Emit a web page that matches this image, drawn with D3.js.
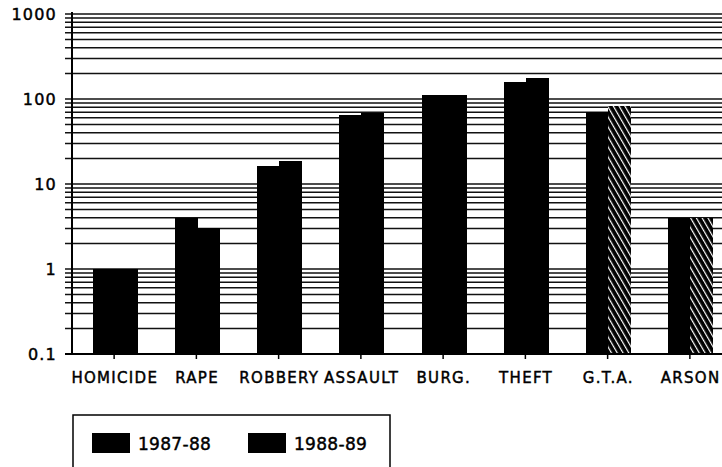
<!DOCTYPE html>
<html>
<head>
<meta charset="utf-8">
<script src="https://cdn.jsdelivr.net/npm/d3@7/dist/d3.min.js"></script>
<style>
  html, body { margin: 0; padding: 0; background: #fff; }
  svg { display: block; }
  text { font-family: "DejaVu Sans", sans-serif; fill: #000; stroke: #000; stroke-width: 0.45px; }
</style>
</head>
<body>
<svg id="chart" width="722" height="467"></svg>
<script>
// ---- data ----
const categories = ["HOMICIDE", "RAPE", "ROBBERY", "ASSAULT", "BURG.", "THEFT", "G.T.A.", "ARSON"];
const seriesNames = ["1987-88", "1988-89"];
const values1987 = [1, 4, 16.5, 64, 112, 160, 71, 4];
const values1988 = [1, 3, 18.5, 69, 110, 175, 82, 4];
const tickValues = [0.1, 1, 10, 100, 1000];
const tickLabels = ["0.1", "1", "10", "100", "1000"];

// ---- layout ----
const svg = d3.select("#chart");
const axisX = 72, yTop = 14, yBottom = 354;
const HATCH_FROM = 6; // faded (hatched) look of the second series at the right

const y = d3.scaleLog().domain([0.1, 1000]).range([yBottom, yTop]);
const x = d3.scaleBand().domain(categories).range([73, 731])
  .paddingInner(0.477).paddingOuter(0.2385);
const xs = d3.scaleBand().domain(seriesNames).range([0, x.bandwidth()]).padding(0);

// hatch pattern
const defs = svg.append("defs");
const pat = defs.append("pattern").attr("id", "hatch").attr("patternUnits", "userSpaceOnUse")
  .attr("width", 5).attr("height", 5).attr("patternTransform", "rotate(-30)");
pat.append("rect").attr("width", 5).attr("height", 5).attr("fill", "#000");
pat.append("rect").attr("x", 0).attr("y", 0).attr("width", 1.2).attr("height", 5).attr("fill", "#fff");

// gridlines (major + minor at 2..9)
const gridVals = [];
for (let e = -1; e < 3; e++) {
  for (let m = 1; m <= 9; m++) gridVals.push(m * Math.pow(10, e));
}
gridVals.push(1000);
svg.append("g").selectAll("line").data(gridVals.filter(v => v > 0.1)).join("line")
  .attr("x1", 65).attr("x2", 722)
  .attr("y1", d => y(d)).attr("y2", d => y(d))
  .attr("stroke", "#111").attr("stroke-width", 1.5);

// bars
const data = categories.map((c, i) => ({ c, i, vals: [values1987[i], values1988[i]] }));
const groups = svg.append("g").attr("shape-rendering", "crispEdges").selectAll("g").data(data).join("g")
  .attr("transform", d => `translate(${Math.round(x(d.c))},0)`);
groups.selectAll("rect").data(d => d.vals.map((v, k) => ({ v, k, i: d.i }))).join("rect")
  .attr("x", d => Math.round(xs(seriesNames[d.k])))
  .attr("width", Math.round(xs.bandwidth()) + 1)
  .attr("y", d => y(d.v))
  .attr("height", d => yBottom - y(d.v))
  .attr("fill", d => (d.k === 1 && d.i >= HATCH_FROM) ? "url(#hatch)" : "#000");

// y axis line
svg.append("line").attr("x1", axisX).attr("x2", axisX).attr("y1", yTop - 2).attr("y2", yBottom)
  .attr("stroke", "#000").attr("stroke-width", 2);
// x axis line
svg.append("line").attr("x1", 65).attr("x2", 722).attr("y1", yBottom).attr("y2", yBottom)
  .attr("stroke", "#000").attr("stroke-width", 1.8);
// x ticks
svg.append("g").selectAll("line").data(categories).join("line")
  .attr("x1", d => x(d) + x.bandwidth() / 2).attr("x2", d => x(d) + x.bandwidth() / 2)
  .attr("y1", yBottom).attr("y2", yBottom + 5)
  .attr("stroke", "#000").attr("stroke-width", 1.5);

// y tick labels
svg.append("g").selectAll("text").data(tickValues).join("text")
  .attr("x", 57).attr("y", d => y(d) + 6)
  .attr("text-anchor", "end")
  .style("font-size", "16px").style("letter-spacing", "1.2px")
  .text((d, i) => tickLabels[i]);

// x labels
svg.append("g").selectAll("text").data(categories).join("text")
  .attr("x", d => x(d) + x.bandwidth() / 2 + 0.7).attr("y", 383)
  .attr("text-anchor", "middle")
  .style("font-size", "15px").style("letter-spacing", "1.3px")
  .text(d => d);

// legend
svg.append("rect").attr("x", 73).attr("y", 415).attr("width", 317).attr("height", 70)
  .attr("fill", "none").attr("stroke", "#000").attr("stroke-width", 1.5);
const legX = [92, 248];
const lg = svg.append("g").selectAll("g").data(seriesNames).join("g")
  .attr("transform", (d, i) => `translate(${legX[i]},433)`);
lg.append("rect").attr("width", 38).attr("height", 20).attr("fill", "#000");
lg.append("text").attr("x", 46).attr("y", 16.5)
  .style("font-size", "17px").style("letter-spacing", "0.3px")
  .text(d => d);
</script>
</body>
</html>
